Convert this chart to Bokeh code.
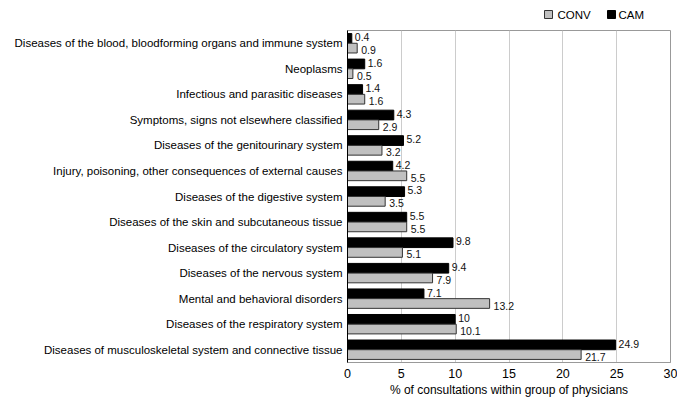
from bokeh.plotting import figure
from bokeh.layouts import column
from bokeh.models import ColumnDataSource, FactorRange, FixedTicker, LabelSet, Range1d
from bokeh.transform import dodge
from bokeh.core.properties import value
from bokeh.embed import file_html
from bokeh.resources import INLINE

# top to bottom in the picture
categories = [
    "Diseases of the blood, bloodforming organs and immune system",
    "Neoplasms",
    "Infectious and parasitic diseases",
    "Symptoms, signs not elsewhere classified",
    "Diseases of the genitourinary system",
    "Injury, poisoning, other consequences of external causes",
    "Diseases of the digestive system",
    "Diseases of the skin and subcutaneous tissue",
    "Diseases of the circulatory system",
    "Diseases of the nervous system",
    "Mental and behavioral disorders",
    "Diseases of the respiratory system",
    "Diseases of musculoskeletal system and connective tissue",
]
cam = [0.4, 1.6, 1.4, 4.3, 5.2, 4.2, 5.3, 5.5, 9.8, 9.4, 7.1, 10, 24.9]
conv = [0.9, 0.5, 1.6, 2.9, 3.2, 5.5, 3.5, 5.5, 5.1, 7.9, 13.2, 10.1, 21.7]
cam_labels = ["0.4", "1.6", "1.4", "4.3", "5.2", "4.2", "5.3", "5.5", "9.8", "9.4", "7.1", "10", "24.9"]
conv_labels = ["0.9", "0.5", "1.6", "2.9", "3.2", "5.5", "3.5", "5.5", "5.1", "7.9", "13.2", "10.1", "21.7"]
x_ticks = [0, 5, 10, 15, 20, 25, 30]
series_names = ["CONV", "CAM"]

FONT = "Liberation Sans"
CAM_FILL, CAM_LINE = "black", "black"
CONV_FILL, CONV_LINE = "#c0c0c0", "#333333"

src = ColumnDataSource(dict(cat=categories, cam=cam, conv=conv,
                            cam_lbl=cam_labels, conv_lbl=conv_labels))

p = figure(width=677, height=372, output_backend="svg", toolbar_location=None,
           y_range=FactorRange(factors=list(reversed(categories)), range_padding=0.0),
           x_range=(0, 30),
           min_border_left=347, min_border_right=7, min_border_top=0, min_border_bottom=40)
p.y_range.range_padding = 0
p.y_range.factor_padding = 0

off = 0.19
h = 0.38
r_cam = p.hbar(y=dodge("cat", off, range=p.y_range), right="cam", left=0, height=h,
               source=src, fill_color=CAM_FILL, line_color=CAM_LINE, line_width=1)
r_conv = p.hbar(y=dodge("cat", -off, range=p.y_range), right="conv", left=0, height=h,
                source=src, fill_color=CONV_FILL, line_color=CONV_LINE, line_width=1)

lab_cam = LabelSet(x="cam", y=dodge("cat", off + 0.05, range=p.y_range), text="cam_lbl", source=src,
                   x_offset=3, text_baseline="middle", text_font=value(FONT),
                   text_font_size="10.5px", text_color="#111111")
lab_conv = LabelSet(x="conv", y=dodge("cat", -off - 0.08, range=p.y_range), text="conv_lbl", source=src,
                    x_offset=4, text_baseline="middle", text_font=value(FONT),
                    text_font_size="10.5px", text_color="#111111")
p.add_layout(lab_cam)
p.add_layout(lab_conv)

# axes
p.xaxis.ticker = FixedTicker(ticks=x_ticks)
p.xaxis.axis_label = "% of consultations within group of physicians"
p.xaxis.axis_label_text_font = FONT
p.xaxis.axis_label_text_font_style = "normal"
p.xaxis.axis_label_text_font_size = "12px"
p.xaxis.axis_label_text_color = "black"
p.xaxis.axis_label_standoff = 2
p.xaxis.major_label_text_font = FONT
p.xaxis.major_label_text_font_size = "12.5px"
p.xaxis.major_label_text_color = "black"
p.xaxis.major_label_standoff = 6
p.xaxis.major_tick_line_color = None
p.xaxis.major_tick_out = 0
p.xaxis.major_tick_in = 0
p.xaxis.minor_tick_line_color = None
p.xaxis.axis_line_color = "#999999"

p.yaxis.major_label_text_font = FONT
p.yaxis.major_label_text_font_size = "11.5px"
p.yaxis.major_label_text_color = "black"
p.yaxis.major_label_standoff = 5
p.yaxis.major_tick_line_color = None
p.yaxis.major_tick_out = 0
p.yaxis.major_tick_in = 0
p.yaxis.axis_line_color = "black"
p.yaxis.axis_line_width = 1

p.xgrid.grid_line_color = "#cccccc"
p.ygrid.grid_line_color = None
p.outline_line_color = "#999999"
p.background_fill_color = "white"
p.border_fill_color = "white"

# legend strip above the plot (ranges in page pixels; frame aligned with main plot)
pl = figure(width=677, height=30, output_backend="svg", toolbar_location=None,
            x_range=Range1d(347, 670), y_range=Range1d(0, 30),
            min_border_left=347, min_border_right=7, min_border_top=0, min_border_bottom=0)
pl.axis.visible = False
pl.grid.visible = False
pl.outline_line_color = None
pl.background_fill_color = "white"
pl.border_fill_color = "white"

leg_src = ColumnDataSource(dict(
    bx=[548, 611], tx=[557, 618], y=[16, 16],
    name=series_names, fill=[CONV_FILL, CAM_FILL], line=[CONV_LINE, CAM_LINE]))
pl.rect(x="bx", y="y", width=8, height=8, fill_color="fill", line_color="line", source=leg_src)
pl.text(x="tx", y="y", text="name", text_baseline="middle", text_font=value(FONT),
        text_font_size="11.5px", text_color="black", source=leg_src)

layout = column(pl, p, spacing=0)
open("out.html", "w").write(file_html(layout, INLINE))
